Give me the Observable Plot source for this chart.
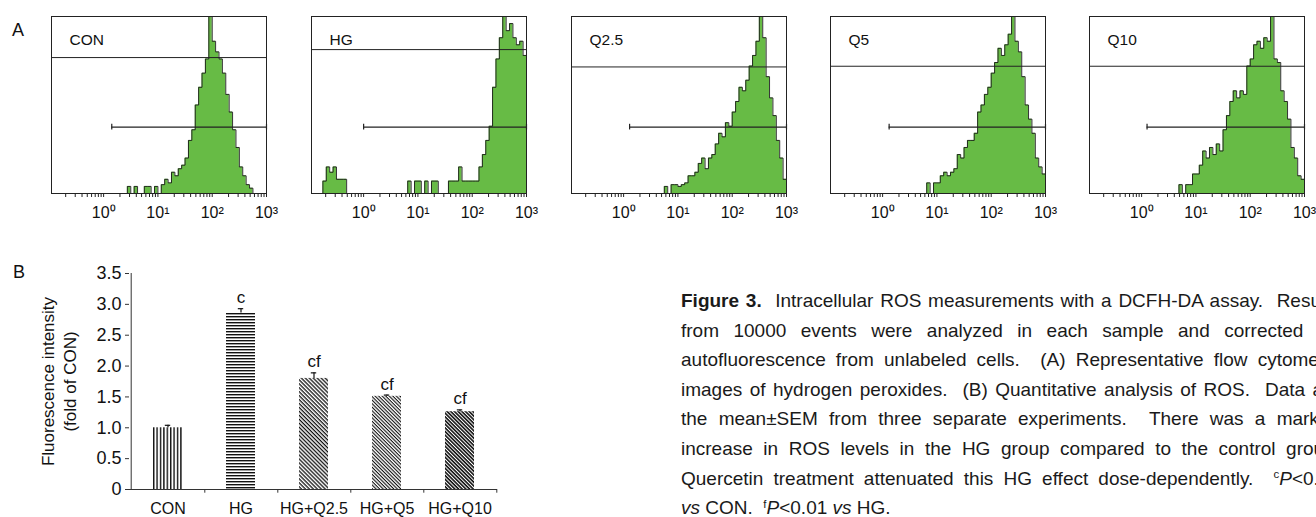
<!DOCTYPE html>
<html>
<head>
<meta charset="utf-8">
<script src="https://cdn.jsdelivr.net/npm/d3@7"></script>
<script src="https://cdn.jsdelivr.net/npm/@observablehq/plot@0.6"></script>
<style>
html,body{margin:0;padding:0;background:#fff;}
#root{position:relative;width:1316px;height:517px;overflow:hidden;font-family:"Liberation Sans",Arial,sans-serif;color:#111;}
.letter{position:absolute;font-size:18px;line-height:18px;}
#caption{position:absolute;left:681px;top:286px;font-size:19px;line-height:29.6px;color:#1a1a1a;}
#caption .j{width:659px;text-align:justify;text-align-last:justify;}
#caption sup{font-size:0.6em;vertical-align:baseline;position:relative;top:-0.55em;line-height:0;}
</style>
</head>
<body>
<div id="root">
<svg width="0" height="0" style="position:absolute;left:0;top:0">
  <defs>
    <pattern id="pCON" patternUnits="userSpaceOnUse" width="3.4" height="10">
      <rect width="3.4" height="10" fill="#fff"/><rect x="0" y="0" width="1.4" height="10" fill="#111"/>
    </pattern>
    <pattern id="pHG" patternUnits="userSpaceOnUse" width="10" height="3.0">
      <rect width="10" height="3.0" fill="#fff"/><rect x="0" y="0" width="10" height="1.4" fill="#111"/>
    </pattern>
    <pattern id="pQ25" patternUnits="userSpaceOnUse" width="10" height="2.8" patternTransform="rotate(45)">
      <rect width="10" height="2.8" fill="#fff"/><rect x="0" y="0" width="10" height="1.3" fill="#111"/>
    </pattern>
    <pattern id="pQ5" patternUnits="userSpaceOnUse" width="10" height="2.5" patternTransform="rotate(45)">
      <rect width="10" height="2.5" fill="#fff"/><rect x="0" y="0" width="10" height="1.1" fill="#111"/>
    </pattern>
    <pattern id="pQ10" patternUnits="userSpaceOnUse" width="10" height="2.6" patternTransform="rotate(45)">
      <rect width="10" height="2.6" fill="#fff"/><rect x="0" y="0" width="10" height="1.6" fill="#111"/>
    </pattern>
  </defs>
</svg>
<div class="letter" style="left:12px;top:21px">A</div>
<div class="letter" style="left:13px;top:263px">B</div>
<div id="caption">
  <div class="j"><b>Figure 3.</b>&nbsp; Intracellular ROS measurements with a DCFH-DA assay.&nbsp; Results</div>
  <div class="j">from 10000 events were analyzed in each sample and corrected for</div>
  <div class="j">autofluorescence from unlabeled cells.&nbsp; (A) Representative flow cytometry</div>
  <div class="j">images of hydrogen peroxides.&nbsp; (B) Quantitative analysis of ROS.&nbsp; Data are</div>
  <div class="j">the mean±SEM from three separate experiments.&nbsp; There was a marked</div>
  <div class="j">increase in ROS levels in the HG group compared to the control group.</div>
  <div class="j">Quercetin treatment attenuated this HG effect dose-dependently.&nbsp; <sup>c</sup><i>P</i>&lt;0.01</div>
  <div><i>vs</i> CON.&nbsp; <sup>f</sup><i>P</i>&lt;0.01 <i>vs</i> HG.</div>
</div>
</div>
<script>
// ---------- Panel A: flow cytometry histograms (bins of 1/16 decade from 10^-1 to 10^3, % of panel height) ----------
const histLabels = ["CON", "HG", "Q2.5", "Q5", "Q10"];
const binStartLog = -1;
const binsPerDecade = 16;
const conCounts = [
  0,0,0,0,0,0,0,0,0,0,0,0,0,0,0,0,0,0,0,0,0,0,
  0,4,0,4,0,0,4,4,0,4,0,5,8,6,12,10,14,16,20,30,36,50,60,68,76,100,
  86,80,76,68,56,46,36,26,15,10,5,3,0,0,0,0
];
const hgCounts = [
  0,0,0,0,7,15,12,15,8,8,8,
  0,0,0,0,0,0,0,0,0,0,0,0,0,0,0,0,0,0,
  7,0,7,7,0,7,0,7,7,0,0,0,7,7,7,15,7,7,7,7,7,
  15,22,30,38,60,76,88,100,92,96,88,84,86,78
];
const q25Counts = [
  0,0,0,0,0,0,0,0,0,0,0,0,0,0,0,0,0,0,0,0,0,0,0,0,0,0,0,0,
  4,0,5,5,4,5,6,10,10,12,17,20,14,20,22,28,34,32,40,38,46,52,60,58,64,72,78,86,
  100,88,66,54,44,30,20,8
];
const q5Counts = [
  0,0,0,0,0,0,0,0,0,0,0,0,0,0,0,0,0,0,0,0,0,0,0,0,0,0,0,0,0,
  6,0,6,6,10,12,10,12,14,22,20,26,30,30,34,46,50,56,60,68,74,82,78,84,90,
  100,86,80,66,50,42,34,20,15,11
];
const q10Counts = [
  0,0,0,0,0,0,0,0,0,0,0,0,0,0,0,0,0,0,0,0,0,0,0,0,0,0,0,
  5,0,5,5,11,11,16,24,20,26,22,28,24,36,44,52,58,54,58,56,72,76,84,86,82,88,86,
  100,76,74,58,52,42,26,20,10,8
];
const histCounts = [conCounts, hgCounts, q25Counts, q5Counts, q10Counts];
const gateLevels = [76.8, 81.3, 71.5, 71.9, 71.9];       // upper horizontal gate line (% of height)
const markerLevel = 37.5;                                  // M1 marker bar level
const markerStartLog = [0.15, 0.0, 0.11, 0.12, 0.10];      // M1 marker left end (log10)
const decadeLabels = ["10⁰", "10¹", "10²", "10³"];

// ---------- Panel B: bar chart ----------
const groups = ["CON", "HG", "HG+Q2.5", "HG+Q5", "HG+Q10"];
const means = [1.00, 2.86, 1.80, 1.51, 1.26];
const sems = [0.04, 0.07, 0.09, 0.02, 0.03];
const sigLabels = ["", "c", "cf", "cf", "cf"];
const yTicks = [0, 0.5, 1.0, 1.5, 2.0, 2.5, 3.0, 3.5];
const patternIds = ["pCON", "pHG", "pQ25", "pQ5", "pQ10"];

const root = document.getElementById("root");
const font = '"Liberation Sans", Arial, sans-serif';
const green = "#67bb45";

// layout of histogram frames
const frameLefts = [51, 311, 571, 830, 1089];
const frameW = 215, frameTop = 16, frameH = 177;
const mL = 10, mR = 18, mB = 34;

const logMin = -0.96;
const tickVals = d3.range(-1, 3).flatMap(k => d3.range(1, 10).map(m => m * 10 ** k)).concat([1000]).filter(d => d >= 10 ** logMin);
const fmtDecade = d => {
  const k = Math.log10(d), r = Math.round(k);
  return Math.abs(k - r) < 1e-9 && r >= 0 ? decadeLabels[r] : "";
};

function place(svg, left, top) {
  svg.style.position = "absolute";
  svg.style.left = left + "px";
  svg.style.top = top + "px";
  root.appendChild(svg);
}

histCounts.forEach((counts, p) => {
  const pts = counts.map((v, i) => ({x: 10 ** (binStartLog + i / binsPerDecade), y: v}));
  pts.push({x: 10 ** (binStartLog + counts.length / binsPerDecade), y: counts[counts.length - 1]});
  const ms = 10 ** markerStartLog[p];
  const svg = Plot.plot({
    width: mL + frameW + mR,
    height: frameTop + frameH + mB,
    marginLeft: mL, marginRight: mR, marginTop: frameTop, marginBottom: mB,
    x: {type: "log", domain: [10 ** logMin, 1000], label: null},
    y: {domain: [0, 100], axis: null, label: null},
    style: {fontFamily: font, fontSize: "16px", color: "#111", background: "transparent", overflow: "visible"},
    marks: [
      Plot.areaY(pts, {x: "x", y: "y", curve: "step-after", fill: green, clip: true}),
      Plot.lineY(pts, {x: "x", y: "y", curve: "step-after", stroke: "#1b1b1b", strokeWidth: 0.9, clip: true}),
      Plot.ruleY([gateLevels[p]], {stroke: "#222", strokeWidth: 1}),
      Plot.ruleY([markerLevel], {x1: ms, x2: 1000, stroke: "#222", strokeWidth: 1.2}),
      Plot.ruleX([ms, 1000], {y1: markerLevel - 1.6, y2: markerLevel + 1.6, stroke: "#222", strokeWidth: 1.2}),
      Plot.frame({stroke: "#222", strokeWidth: 1}),
      Plot.axisX(tickVals, {tickSize: 4, tickPadding: 9, tickFormat: fmtDecade, stroke: "#222", fontSize: 16, label: null}),
      Plot.text([histLabels[p]], {frameAnchor: "top-left", dx: 18, dy: 24, textAnchor: "start", lineAnchor: "middle", fontSize: 15.5})
    ]
  });
  place(svg, frameLefts[p] - mL, 0);
});

// bar chart
const rows = groups.map((g, i) => ({g, m: means[i], s: sems[i], sig: sigLabels[i], pid: patternIds[i]}));
const bw = 368 / groups.length;
const bar = Plot.plot({
  width: 510, height: 267,
  marginLeft: 129, marginRight: 13, marginTop: 23, marginBottom: 28,
  x: {domain: groups, padding: 0, label: null},
  y: {domain: [0, 3.5], label: null},
  color: {type: "identity"},
  style: {fontFamily: font, fontSize: "16px", color: "#111", background: "transparent", overflow: "visible"},
  marks: [
    Plot.barY(rows, {x: "g", y: "m", fill: d => `url(#${d.pid})`, insetLeft: 22, insetRight: 22}),
    Plot.ruleX(rows, {x: "g", y1: "m", y2: d => d.m + d.s, stroke: "#111", strokeWidth: 1.2}),
    Plot.tickY(rows, {x: "g", y: d => d.m + d.s, insetLeft: bw / 2 - 3, insetRight: bw / 2 - 3, stroke: "#111", strokeWidth: 1.2}),
    Plot.text(rows, {x: "g", y: d => d.m + d.s, text: "sig", dy: -11, fontSize: 17}),
    Plot.ruleY([0], {stroke: "#333"}),
    Plot.ruleX(groups.slice(0, 1), {y1: 0, y2: 3.5, dx: -bw / 2, stroke: "#333"}),
    Plot.ruleX(groups, {y1: 0, y2: -0.06, dx: bw / 2, stroke: "#333"}),
    Plot.axisY({ticks: yTicks, tickSize: 4, tickPadding: 4, tickFormat: d => d === 0 ? "0" : d.toFixed(1), fontSize: 18, stroke: "#333", label: null}),
    Plot.axisX({tickSize: 0, tickPadding: 13, fontSize: 16, label: null}),
    Plot.text(["Fluorescence intensity\n(fold of CON)"], {frameAnchor: "left", dx: -72, rotate: -90, textAnchor: "middle", lineAnchor: "middle", fontSize: 17, lineHeight: 1.3})
  ]
});
place(bar, 0, 250);
</script>
</body>
</html>
